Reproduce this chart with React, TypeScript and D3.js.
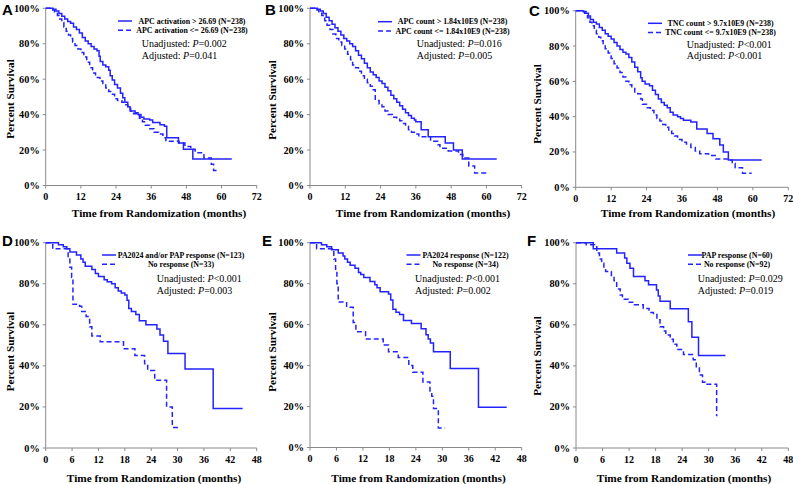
import React from 'react';
import * as d3 from 'd3';

type Pt = [number, number];

// ---------- DATA ----------
// Panel A
const apcActHigh: Pt[] = [[0,100],[2.5,99.5],[3.5,98.5],[4.5,97],[5.5,95.5],[6.5,94],[7.5,92.5],[8.5,91.5],[9.5,89.5],[10.5,88],[11.5,86],[12.5,83.5],[13.5,81.5],[14.5,80],[15.5,78.5],[16.5,77],[17.5,76],[18.2,73],[18.6,70],[19.5,68],[20.5,67],[21.5,65],[22,62],[22.7,59.5],[23.5,57],[24.5,55],[25.5,52],[26.3,49.5],[27,47],[28,44.5],[28.8,42],[30.5,41],[31.5,40],[32.5,38.5],[33.5,37.5],[35.5,37],[36.5,35.5],[39,34.3],[40.5,33.5],[41.3,27],[45.3,24],[47,20.5],[50.2,15],[63.5,15]];
const apcActLow: Pt[] = [[0,100],[2,99],[3,98],[4,96],[4.8,94],[5.5,92],[6.2,89.5],[7,87],[7.8,85],[8.5,83],[9.2,81],[10,79],[11,77],[12,75],[13,72.5],[14,69.5],[15,66.5],[16,63.5],[17,61],[18.5,59],[19.5,57.5],[20.5,55],[21.5,53],[22.5,51.5],[23.5,49],[24.5,48],[26,47],[27,45.5],[28,43.5],[29,42],[30,40.5],[31,39.5],[32,38],[33,36],[34,34],[35.5,32],[37,30],[38.5,29],[40,27],[41,25],[45.5,24],[47.5,22],[49.5,20.5],[51,18.5],[54,15.5],[56.5,12],[57.3,8.5],[58.3,8.5]];
// Panel B
const apcCntHigh: Pt[] = [[0,100],[2.5,99.5],[3.5,98.5],[4.5,97],[5.5,95],[6.5,93],[7.5,91],[8.5,89],[9.5,87],[10.5,85],[11.5,83],[12.5,81.5],[13.5,80],[14.5,78.5],[15.5,76],[16.5,73.5],[17.5,71.5],[18.5,69],[19.5,66.5],[20.5,64],[21.5,62.5],[22.5,61],[23.5,59],[24.5,57.5],[25.5,55.5],[26.5,53.5],[27.5,51],[28.5,49],[29.5,47],[30.5,45],[31.5,43],[32.5,41],[33.5,39.5],[34.5,38],[35.5,37],[36,36],[37.8,31.5],[40.2,27.5],[46,24],[48.8,20],[51.8,15],[63.5,15]];
const apcCntLow: Pt[] = [[0,100],[2,99],[3,98],[4,96],[5,93],[5.8,90.5],[6.8,88],[7.8,85.5],[8.8,83],[9.8,81],[10.8,79],[11.8,77],[12.8,74],[13.8,71],[14.5,68],[15.5,66.5],[16.5,64.5],[17.5,62],[18.5,60],[19.5,58],[20.5,56],[21.5,54],[22.2,48],[23.5,46],[24.5,44.5],[25.5,42],[26.5,40],[28,38.5],[29.5,37.5],[30.5,36.5],[31.5,35],[32.5,33.5],[33.5,31.5],[34.5,30],[35.5,29],[37,27.5],[41,25],[43.5,23],[44.2,21],[47,19.5],[50.5,17.5],[52,15.5],[54,11],[56,7],[60,7]];
// Panel C
const tncHigh: Pt[] = [[0,100],[2.5,99.5],[3.5,98.5],[4.3,97],[5,95],[6,93.5],[7,92.5],[8,90.5],[9,89],[10,87],[11,85.5],[12,84],[13,82],[14,80],[15,78],[16,76.5],[17,75.5],[18,73.5],[19,71],[20,68],[21,65.5],[22,62],[22.5,60],[23.5,58.5],[25,57.5],[26,55],[27,52.5],[28,50],[29,48],[30,46.5],[31,45],[32,42.5],[33,41],[34.5,40],[35.5,39],[36.5,38],[39,37],[41,33],[44.5,30.5],[46.5,27.5],[48.8,24],[50,20],[51.7,15.5],[63,15.5]];
const tncLow: Pt[] = [[0,100],[2,99.5],[3,98.5],[4,96],[4.8,93.5],[5.5,91.5],[6.3,89],[7,87],[7.8,85],[8.5,83],[9.3,80.5],[10,78.5],[11,76],[12,73],[13,70],[14,67.5],[15,65],[16,62.5],[17,60],[18,58],[19,56],[20,54],[21,53],[22,50],[22.6,47],[24,45],[25.3,43.5],[26.5,41],[27.5,39],[28.5,37.5],[29.5,35.5],[30.5,34],[31.5,32],[32.5,30.5],[33.5,29],[34.5,27],[36,25.5],[37.5,24.5],[39,22.5],[40.5,20.5],[42,19],[45,18],[47.5,16],[52.5,15.5],[53,13.5],[54,11],[56.5,8],[59.6,8]];
// Panel D
const paAnyResp: Pt[] = [[0,100],[2.9,99],[4,98],[4.8,97],[5.5,95.5],[7,94],[8,92],[8.5,90.5],[9,88.5],[10.5,87],[11.3,85],[12,83.5],[13.3,82],[14,81],[15,80],[15.8,78],[16.5,76.5],[17.2,75.5],[18,74.5],[18.5,72],[18.9,68],[19.5,66.5],[20.5,65],[21.3,62],[22.8,60],[25.3,58],[26,55],[26.8,52],[27.8,46],[31.7,38.5],[38.1,19.2],[44.8,19.2]];
const noRespD: Pt[] = [[0,100],[1.6,97],[4.5,97],[5.1,92],[5.5,88],[5.9,83],[6.2,70],[7.7,69],[8.2,66.5],[9.2,64],[10,59],[10.5,54.5],[12.4,51.7],[17.7,48.3],[20.3,45],[22.5,41],[23.2,37.8],[24.8,33],[27.5,20],[28.8,10],[30.5,10]];
// Panel E
const pa2024Resp: Pt[] = [[0,100],[2.6,99],[3.8,98],[4.9,96.5],[6.4,95],[7.5,93.5],[7.9,92],[8.5,90.5],[9.1,89],[10.2,87.5],[11,85.5],[11.5,84.5],[12.2,83],[13.6,81],[14.7,79.5],[15.2,78],[15.9,76],[17.8,75],[18.3,72],[18.8,67.5],[19.5,66],[20.3,65],[21.2,62],[23,60.5],[25.2,58],[26.3,55],[26.8,53],[27.3,51],[28,46.8],[31.8,38.6],[38.2,19.6],[44.6,19.6]];
const noRespE: Pt[] = [[0,100],[1.5,97],[5,97],[5.4,92],[5.8,87],[6.1,80],[6.4,71],[8.3,68.5],[9.8,61],[10.4,56.5],[12.6,53],[16.6,50],[17.8,46.7],[20,44],[22.4,40],[23.3,36.8],[25.6,32],[27.2,27],[27.6,25],[28,19],[29.1,9.5],[30.6,9.5]];
// Panel F
const papResp: Pt[] = [[0,100],[3.9,97],[9.2,95],[11,92.5],[11.5,90],[12.2,87.5],[13,83.5],[15.6,81.5],[16.4,79.5],[18.2,77],[18.6,74],[19,71.5],[21.3,67.8],[25.4,61.5],[26.2,54],[27.7,45],[33.8,45]];
const noRespF: Pt[] = [[0,100],[2.3,99],[4.2,98],[4.7,95],[5.3,92],[5.8,90],[6.3,87.5],[6.7,86],[8,84],[8.6,81.5],[9.2,77.5],[10,74.5],[10.5,72.5],[11.8,71],[13.2,69.8],[15.2,68],[16.5,66],[17.5,65],[18.3,62.5],[19,59],[19.8,57],[20.3,55],[21.3,53],[22,50.5],[22.8,48],[24.3,45.5],[26.5,43],[27.2,39],[27.9,35.5],[28.6,32],[29.2,31],[31.6,31],[31.8,15.5]];

const solidSeries: Pt[][] = [apcActHigh, apcCntHigh, tncHigh, paAnyResp, pa2024Resp, papResp];
const dashedSeries: Pt[][] = [apcActLow, apcCntLow, tncLow, noRespD, noRespE, noRespF];

const panelLetters = ['A', 'B', 'C', 'D', 'E', 'F'];
const legendSolid = [
  'APC activation > 26.69 (N=238)',
  'APC count > 1.84x10E9 (N=238)',
  'TNC count > 9.7x10E9 (N=238)',
  'PA2024 and/or PAP response (N=123)',
  'PA2024 response (N=122)',
  'PAP response (N=60)',
];
const legendDashed = [
  'APC activation <= 26.69 (N=238)',
  'APC count <= 1.84x10E9 (N=238)',
  'TNC count <= 9.7x10E9 (N=238)',
  'No response (N=33)',
  'No response (N=34)',
  'No response (N=92)',
];
const pUnadjusted = ['=0.002', '=0.016', '<0.001', '<0.001', '<0.001', '=0.029'];
const pAdjusted = ['=0.041', '=0.005', '<0.001', '=0.003', '=0.002', '=0.019'];

const xTicksTop = [0, 12, 24, 36, 48, 60, 72];
const xTicksBottom = [0, 6, 12, 18, 24, 30, 36, 42, 48];
const yTicks = [0, 20, 40, 60, 80, 100];
const yTitle = 'Percent Survival';
const xTitle = 'Time from Randomization (months)';

// ---------- LAYOUT ----------
const layout = [
  { x0: 45.7, x1: 256.7, yT: 8.3, yB: 185.5, legLx: 118, legY: 21, legCx: 192, px: 141.7, py: 47, ytX: 13.5, ytY: 99, xtX: 159, xtY: 216.5, lx: 2, ly: 15 },
  { x0: 310, x1: 521.7, yT: 8.3, yB: 185.5, legLx: 378, legY: 21.7, legCx: 452.5, px: 416.7, py: 47, ytX: 276, ytY: 100, xtX: 423, xtY: 216.5, lx: 265, ly: 15 },
  { x0: 575.7, x1: 788.3, yT: 10.7, yB: 187.3, legLx: 648, legY: 23.3, legCx: 720.5, px: 686.7, py: 47.5, ytX: 541, ytY: 104, xtX: 688, xtY: 217, lx: 529, ly: 16 },
  { x0: 45.7, x1: 256.7, yT: 242.7, yB: 448, legLx: 102, legY: 255, legCx: 181, px: 156.7, py: 282, ytX: 14, ytY: 351.5, xtX: 154, xtY: 481.5, lx: 2, ly: 246 },
  { x0: 310, x1: 521.7, yT: 242.7, yB: 447.5, legLx: 406.5, legY: 255, legCx: 465.5, px: 415, py: 282, ytX: 276, ytY: 352, xtX: 418.5, xtY: 481.5, lx: 262, ly: 246 },
  { x0: 576, x1: 788.3, yT: 242.7, yB: 448, legLx: 688, legY: 255, legCx: 737, px: 697.7, py: 282, ytX: 541, ytY: 356, xtX: 684, xtY: 481.5, lx: 527, ly: 246 },
];

const BLUE = '#2323ff';
const AXIS = '#8a8a8a';
const SERIF = '"Liberation Serif", "Times New Roman", serif';
const SANS = '"Liberation Sans", Arial, sans-serif';

function Panel({ i }: { i: number }) {
  const L = layout[i];
  const xTicks = i < 3 ? xTicksTop : xTicksBottom;
  const xMax = xTicks[xTicks.length - 1];
  const x = d3.scaleLinear().domain([0, xMax]).range([L.x0, L.x1]);
  const y = d3.scaleLinear().domain([0, 100]).range([L.yB, L.yT]);
  const line = d3
    .line<Pt>()
    .x((d) => x(d[0]))
    .y((d) => y(d[1]))
    .curve(d3.curveStepAfter);

  return (
    <g>
      {/* axes */}
      <line x1={L.x0} x2={L.x0} y1={y(100)} y2={y(0)} stroke={AXIS} strokeWidth={1} />
      <line x1={L.x0} x2={x(xMax)} y1={y(0)} y2={y(0)} stroke={AXIS} strokeWidth={1} />
      {yTicks.map((t) => (
        <g key={'y' + t}>
          <line x1={L.x0 - 3} x2={L.x0} y1={y(t)} y2={y(t)} stroke={AXIS} strokeWidth={1} />
          <text x={L.x0 - 6} y={y(t) + 3.5} textAnchor="end" fontFamily={SERIF} fontWeight="bold" fontSize={10.3}>
            {t}%
          </text>
        </g>
      ))}
      {xTicks.map((t) => (
        <g key={'x' + t}>
          <line x1={x(t)} x2={x(t)} y1={y(0)} y2={y(0) + 3} stroke={AXIS} strokeWidth={1} />
          <text x={x(t)} y={y(0) + 14.5} textAnchor="middle" fontFamily={SERIF} fontWeight="bold" fontSize={10}>
            {t}
          </text>
        </g>
      ))}
      {/* curves */}
      <path d={line(dashedSeries[i]) || ''} fill="none" stroke={BLUE} strokeWidth={1.5} strokeDasharray="5,3" />
      <path d={line(solidSeries[i]) || ''} fill="none" stroke={BLUE} strokeWidth={1.5} />
      {/* legend */}
      <line x1={L.legLx} x2={L.legLx + 14} y1={L.legY} y2={L.legY} stroke={BLUE} strokeWidth={1.5} />
      <line x1={L.legLx} x2={L.legLx + 14} y1={L.legY + 9.3} y2={L.legY + 9.3} stroke={BLUE} strokeWidth={1.5} strokeDasharray="5,3" />
      <text x={L.legCx} y={L.legY + 2.7} textAnchor="middle" fontFamily={SERIF} fontWeight="bold" fontSize={7.9}>
        {legendSolid[i]}
      </text>
      <text x={L.legCx} y={L.legY + 9.3 + 2.7} textAnchor="middle" fontFamily={SERIF} fontWeight="bold" fontSize={7.9}>
        {legendDashed[i]}
      </text>
      {/* p-values */}
      <text x={L.px} y={L.py} fontFamily={SERIF} fontSize={10}>
        Unadjusted: <tspan fontStyle="italic">P</tspan>
        {pUnadjusted[i]}
      </text>
      <text x={L.px} y={L.py + 11.7} fontFamily={SERIF} fontSize={10}>
        Adjusted: <tspan fontStyle="italic">P</tspan>
        {pAdjusted[i]}
      </text>
      {/* titles */}
      <text
        transform={`translate(${L.ytX},${L.ytY}) rotate(-90)`}
        textAnchor="middle"
        fontFamily={SERIF}
        fontWeight="bold"
        fontSize={11.2}
      >
        {yTitle}
      </text>
      <text x={L.xtX} y={L.xtY} textAnchor="middle" fontFamily={SERIF} fontWeight="bold" fontSize={11.3}>
        {xTitle}
      </text>
      <text x={L.lx} y={L.ly} fontFamily={SANS} fontWeight="bold" fontSize={15}>
        {panelLetters[i]}
      </text>
    </g>
  );
}

export default function App() {
  return (
    <svg
      width={793}
      height={484}
      viewBox="0 0 793 484"
      style={{ position: 'absolute', left: 0, top: 0, background: '#fff' }}
    >
      <rect x={0} y={0} width={793} height={484} fill="#fff" />
      {panelLetters.map((_, i) => (
        <Panel key={i} i={i} />
      ))}
    </svg>
  );
}
